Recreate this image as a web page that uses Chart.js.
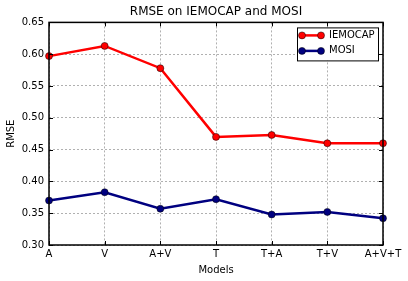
<!DOCTYPE html>
<html>
<head>
<meta charset="utf-8">
<script src="https://cdn.jsdelivr.net/npm/chart.js@4"></script>
<style>
  html, body { margin: 0; padding: 0; background: #fff; }
  #wrap { width: 408px; height: 281px; }
</style>
</head>
<body>
<div id="wrap"><canvas id="kaavio" width="408" height="281"></canvas></div>
<script>
// Kategoriat ja sarjat luettu kuvasta
const mallit = ["A", "V", "A+V", "T", "T+A", "T+V", "A+V+T"];
const iemocap = [0.597, 0.613, 0.578, 0.470, 0.473, 0.460, 0.460];
const mosi = [0.370, 0.383, 0.357, 0.372, 0.348, 0.352, 0.342];
const yTicks = [0.30, 0.35, 0.40, 0.45, 0.50, 0.55, 0.60, 0.65];

const fontti = "'DejaVu Sans', sans-serif";

// Kehys + sisäänpäin osoittavat tikit (matplotlib-tyyli)
const kehys = {
  id: "kehys",
  afterDatasetsDraw(chart) {
    const { ctx, chartArea: a, scales } = chart;
    ctx.save();
    ctx.strokeStyle = "#000";
    ctx.lineWidth = 1;
    ctx.beginPath();
    mallit.forEach((m, i) => {
      const x = Math.round(scales.x.getPixelForValue(i)) + 0.5;
      ctx.moveTo(x, a.bottom); ctx.lineTo(x, a.bottom - 4);
      ctx.moveTo(x, a.top); ctx.lineTo(x, a.top + 4);
    });
    yTicks.forEach(v => {
      const y = Math.round(scales.y.getPixelForValue(v)) + 0.5;
      ctx.moveTo(a.left, y); ctx.lineTo(a.left + 4, y);
      ctx.moveTo(a.right, y); ctx.lineTo(a.right - 4, y);
    });
    ctx.stroke();
    ctx.lineWidth = 1.5;
    ctx.strokeRect(a.left, a.top, a.right - a.left, a.bottom - a.top);

    // Selite oikeaan yläkulmaan
    const lx = a.right - 86, ly = a.top + 5, lw = 81, lh = 33;
    ctx.fillStyle = "#fff";
    ctx.fillRect(lx, ly, lw, lh);
    ctx.lineWidth = 1;
    ctx.strokeRect(lx + 0.5, ly + 0.5, lw, lh);
    chart.data.datasets.forEach((ds, i) => {
      const y = ly + 8 + i * 15.5;
      ctx.strokeStyle = ds.borderColor;
      ctx.lineWidth = 2.5;
      ctx.beginPath();
      ctx.moveTo(lx + 5, y); ctx.lineTo(lx + 24, y);
      ctx.stroke();
      [lx + 5, lx + 24].forEach(px => {
        ctx.beginPath();
        ctx.arc(px, y, 3.5, 0, Math.PI * 2);
        ctx.fillStyle = ds.pointBackgroundColor;
        ctx.fill();
        ctx.lineWidth = 0.5;
        ctx.strokeStyle = "#000";
        ctx.stroke();
      });
      ctx.fillStyle = "#000";
      ctx.font = "10px " + fontti;
      ctx.textBaseline = "middle";
      ctx.textAlign = "left";
      ctx.fillText(ds.label, lx + 32, y);
    });
    ctx.restore();
  }
};

new Chart(document.getElementById("kaavio"), {
  type: "line",
  data: {
    labels: mallit,
    datasets: [
      {
        label: "IEMOCAP",
        data: iemocap,
        borderColor: "#ff0000",
        backgroundColor: "#ff0000",
        pointBackgroundColor: "#ff0000",
        pointBorderColor: "#000",
        pointBorderWidth: 0.5,
        pointRadius: 3.5,
        borderWidth: 2.5,
        tension: 0
      },
      {
        label: "MOSI",
        data: mosi,
        borderColor: "#000080",
        backgroundColor: "#000080",
        pointBackgroundColor: "#000080",
        pointBorderColor: "#000",
        pointBorderWidth: 0.5,
        pointRadius: 3.5,
        borderWidth: 2.5,
        tension: 0
      }
    ]
  },
  options: {
    responsive: false,
    animation: false,
    layout: { padding: { left: 0, right: 25, top: 0, bottom: 0 } },
    plugins: {
      legend: { display: false },
      tooltip: { enabled: false },
      title: {
        display: true,
        fullSize: false,
        text: "RMSE on IEMOCAP and MOSI",
        color: "#000",
        font: { family: fontti, size: 12, weight: "normal" },
        padding: { top: 5, bottom: 3 }
      }
    },
    scales: {
      x: {
        type: "category",
        offset: false,
        grid: { color: "#b0b0b0", drawTicks: false },
        border: { display: false, dash: [2, 2] },
        ticks: { color: "#000", font: { family: fontti, size: 10 }, padding: 3, maxRotation: 0, autoSkip: false },
        title: { display: true, text: "Models", color: "#000", font: { family: fontti, size: 10 }, padding: { top: 2, bottom: 5 } },
        afterFit(s) { s.height = 36; }
      },
      y: {
        min: 0.30,
        max: 0.65,
        afterBuildTicks(s) { s.ticks = yTicks.map(v => ({ value: v })); },
        grid: { color: "#b0b0b0", drawTicks: false },
        border: { display: false, dash: [2, 2] },
        ticks: { color: "#000", font: { family: fontti, size: 10 }, padding: 5, callback: v => v.toFixed(2) },
        title: { display: true, text: "RMSE", color: "#000", font: { family: fontti, size: 10 }, padding: { top: 5, bottom: 4 } },
        afterFit(s) { s.width = 49; }
      }
    }
  },
  plugins: [kehys]
});
</script>
</body>
</html>
